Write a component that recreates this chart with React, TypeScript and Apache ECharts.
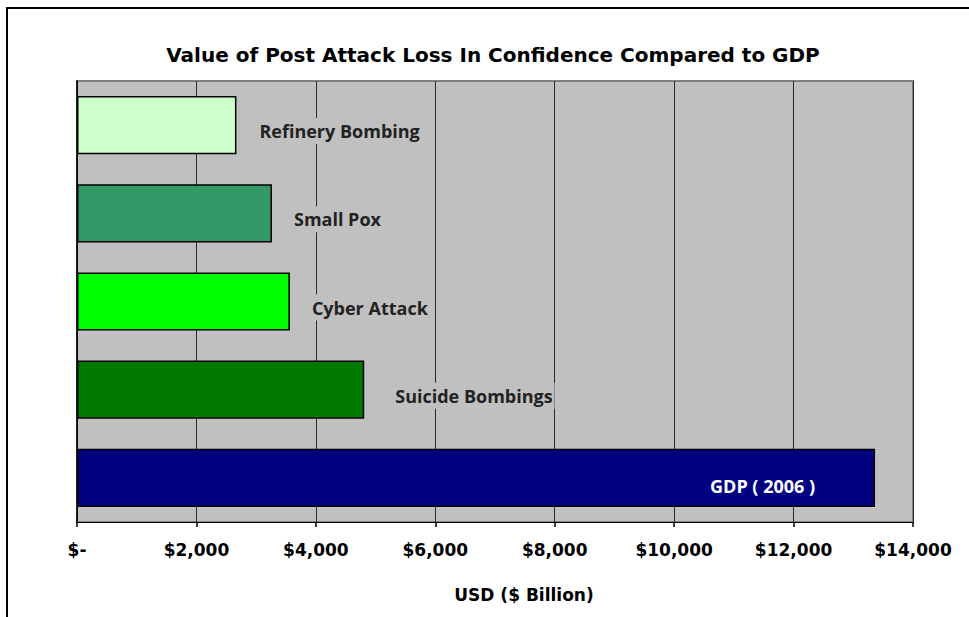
import React, { useEffect, useRef } from "react";
import * as echarts from "echarts";

const categories = ["Refinery Bombing", "Small Pox", "Cyber Attack", "Suicide Bombings", "GDP ( 2006 )"];
const values = [2670, 3265, 3565, 4810, 13365];
const barColors = ["#CCFFCC", "#339966", "#00FF00", "#007A00", "#000080"];
const labelGaps = [21, 20, 20, 29, 60];
const xTicks = [0, 2000, 4000, 6000, 8000, 10000, 12000, 14000];

const titleText = "Value of Post Attack Loss In Confidence Compared to GDP";
const axisTitle = "USD ($ Billion)";

const boldFont = "DejaVu Sans, Verdana, sans-serif";

export default function App() {
  const ref = useRef<HTMLDivElement>(null);
  useEffect(() => {
    if (!ref.current) return;
    const chart = echarts.init(ref.current, null, { renderer: "svg" });
    const lastIdx = categories.length - 1;
    const data = values.map((v, i) => ({
      value: v,
      itemStyle: { color: barColors[i], borderColor: "#000", borderWidth: 1.5 },
      label:
        i === lastIdx
          ? {
              show: true,
              position: "insideRight",
              distance: labelGaps[i],
              offset: [0, 8],
              color: "#fff",
              backgroundColor: "transparent",
              padding: 0,
            }
          : {
              show: true,
              position: "right",
              distance: labelGaps[i],
              offset: [0, 6],
              color: "#222",
              backgroundColor: "#C0C0C0",
              padding: [4, 2],
            },
    }));
    chart.setOption({
      animation: false,
      backgroundColor: "#fff",
      title: {
        text: titleText,
        left: 493,
        top: 45,
        padding: 0,
        textAlign: "center",
        textStyle: {
          fontFamily: boldFont,
          fontWeight: "bold",
          fontSize: 20,
          color: "#000",
        },
      },
      graphic: [
        {
          type: "rect",
          shape: { x: 7, y: 8, width: 1000, height: 700 },
          style: { fill: "none", stroke: "#000", lineWidth: 2 },
          silent: true,
          z: 100,
        },
      ],
      grid: {
        left: 77,
        right: 56,
        top: 81,
        bottom: 95,
        show: true,
        backgroundColor: "#C0C0C0",
        borderColor: "#808080",
        borderWidth: 2,
      },
      xAxis: {
        type: "value",
        min: 0,
        max: xTicks[xTicks.length - 1],
        interval: 2000,
        name: axisTitle,
        nameLocation: "middle",
        nameGap: 64,
        nameTextStyle: {
          fontFamily: boldFont,
          fontWeight: "bold",
          fontSize: 17,
          color: "#000",
          padding: [0, 0, 0, 58],
        },
        axisLine: { show: true, lineStyle: { color: "#000", width: 1 } },
        axisTick: { show: true, length: 5, lineStyle: { color: "#000", width: 1.5 } },
        axisLabel: {
          margin: 19,
          fontFamily: boldFont,
          fontWeight: "bold",
          fontSize: 17,
          color: "#000",
          formatter: (v: number) => (v === 0 ? "$-" : "$" + v.toLocaleString("en-US")),
        },
        splitLine: { show: true, lineStyle: { color: "#2a2a2a", width: 1 } },
      },
      yAxis: {
        type: "category",
        data: categories,
        inverse: true,
        axisLine: { show: true, lineStyle: { color: "#000", width: 1.5 } },
        axisTick: { show: false },
        axisLabel: { show: false },
        splitLine: { show: false },
      },
      series: [
        {
          type: "bar",
          data,
          barWidth: "66%",
          label: {
            fontFamily: "Open Sans, Lato, sans-serif",
            fontWeight: "bold",
            fontSize: 18,
            formatter: (p: any) => p.name,
          },
        },
      ],
    });
    return () => chart.dispose();
  }, []);
  return (
    <div
      ref={ref}
      style={{ position: "absolute", left: 0, top: 0, width: 969, height: 617 }}
    />
  );
}
